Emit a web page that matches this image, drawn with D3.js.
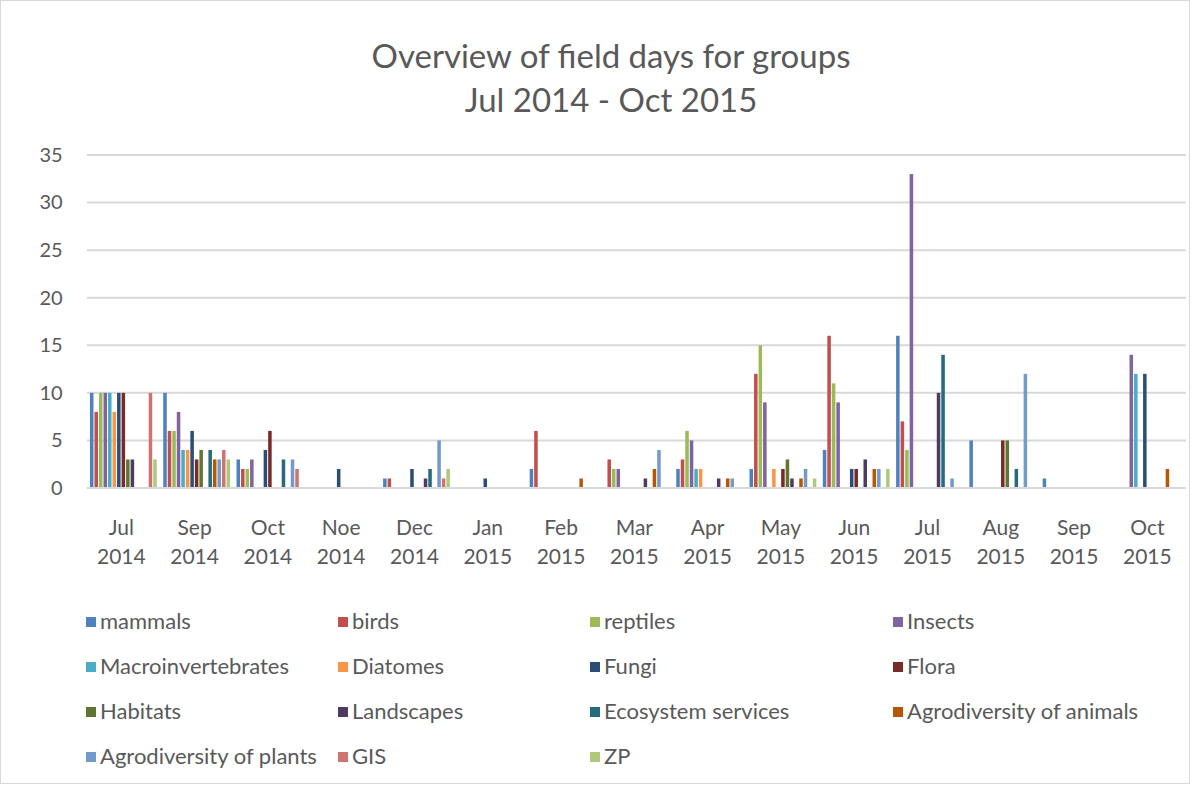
<!DOCTYPE html>
<html>
<head>
<meta charset="utf-8">
<script src="https://cdn.jsdelivr.net/npm/d3@7/dist/d3.min.js"></script>
<style>
  html, body { margin: 0; padding: 0; background: #fff; }
  svg { display: block; font-family: Lato, "Open Sans", sans-serif; }
</style>
</head>
<body>
<svg id="chart" width="1201" height="785"></svg>
<script>
// Months (two-line labels: month, year)
const months = ["Jul 2014", "Sep 2014", "Oct 2014", "Noe 2014", "Dec 2014", "Jan 2015", "Feb 2015",
  "Mar 2015", "Apr 2015", "May 2015", "Jun 2015", "Jul 2015", "Aug 2015", "Sep 2015", "Oct 2015"];

const seriesNames = ["mammals", "birds", "reptiles", "Insects", "Macroinvertebrates", "Diatomes", "Fungi",
  "Flora", "Habitats", "Landscapes", "Ecosystem services", "Agrodiversity of animals",
  "Agrodiversity of plants", "GIS", "ZP"];

const seriesColors = ["#4F81BD", "#C0504D", "#9BBB59", "#8064A2", "#4BACC6", "#F79646", "#2C4D75",
  "#772C2A", "#5F7530", "#4D3B62", "#276A7C", "#B65708", "#729ACA", "#CD7371", "#AFC97A"];

// Field days per group, one value per month
const mammals            = [10, 10, 3, 0, 1, 0, 2, 0, 2, 2, 4, 16, 5, 1, 0];
const birds              = [8, 6, 2, 0, 1, 0, 6, 3, 3, 12, 16, 7, 0, 0, 0];
const reptiles           = [10, 6, 2, 0, 0, 0, 0, 2, 6, 15, 11, 4, 0, 0, 0];
const insects            = [10, 8, 3, 0, 0, 0, 0, 2, 5, 9, 9, 33, 0, 0, 14];
const macroinvertebrates = [10, 4, 0, 0, 0, 0, 0, 0, 2, 0, 0, 0, 0, 0, 12];
const diatomes           = [8, 4, 0, 0, 0, 0, 0, 0, 2, 2, 0, 0, 0, 0, 0];
const fungi              = [10, 6, 4, 2, 2, 1, 0, 0, 0, 0, 2, 0, 0, 0, 12];
const flora              = [10, 3, 6, 0, 0, 0, 0, 0, 0, 2, 2, 0, 5, 0, 0];
const habitats           = [3, 4, 0, 0, 0, 0, 0, 0, 0, 3, 0, 0, 5, 0, 0];
const landscapes         = [3, 0, 0, 0, 1, 0, 0, 1, 1, 1, 3, 10, 0, 0, 0];
const ecosystemServices  = [0, 4, 3, 0, 2, 0, 0, 0, 0, 0, 0, 14, 2, 0, 0];
const agroAnimals        = [0, 3, 0, 0, 0, 0, 1, 2, 1, 1, 2, 0, 0, 0, 2];
const agroPlants         = [0, 3, 3, 0, 5, 0, 0, 4, 1, 2, 2, 1, 12, 0, 0];
const gis                = [10, 4, 2, 0, 1, 0, 0, 0, 0, 0, 0, 0, 0, 0, 0];
const zp                 = [3, 3, 0, 0, 2, 0, 0, 0, 0, 1, 2, 0, 0, 0, 0];

const seriesValues = [mammals, birds, reptiles, insects, macroinvertebrates, diatomes, fungi, flora,
  habitats, landscapes, ecosystemServices, agroAnimals, agroPlants, gis, zp];

const yTicks = [0, 5, 10, 15, 20, 25, 30, 35];

const svg = d3.select("#chart");
const textColor = "#595959";
const gridColor = "#D9D9D9";

// Chart frame
svg.append("rect")
  .attr("x", 0.5).attr("y", 0.5).attr("width", 1189).attr("height", 783)
  .attr("fill", "#fff").attr("stroke", gridColor);

// Title
const title = svg.append("text")
  .attr("text-anchor", "middle")
  .attr("fill", textColor)
  .attr("font-size", 33);
title.append("tspan").attr("x", 611).attr("y", 68).text("Overview of field days for groups");
title.append("tspan").attr("x", 611).attr("y", 112).text("Jul 2014 - Oct 2015");

// Scales
const plotLeft = 86.7, plotRight = 1186;
const x0 = d3.scaleBand().domain(months).range([plotLeft, plotRight]);
const gap = x0.bandwidth() - 15 * 4.52;
const x1 = d3.scaleBand().domain(seriesNames).range([gap / 2, x0.bandwidth() - gap / 2]);
const y = d3.scaleLinear().domain([0, 35]).range([488, 155]);

// Gridlines
svg.append("g")
  .selectAll("line")
  .data(yTicks)
  .join("line")
  .attr("x1", plotLeft).attr("x2", plotRight)
  .attr("y1", d => y(d)).attr("y2", d => y(d))
  .attr("stroke", gridColor).attr("stroke-width", 2);

// Y axis labels
const yAxis = svg.append("g")
  .attr("transform", `translate(${plotLeft - 24},0)`)
  .call(d3.axisLeft(y).tickValues(yTicks).tickSize(0).tickPadding(0));
yAxis.select(".domain").remove();
yAxis.selectAll("text")
  .attr("fill", textColor)
  .attr("font-size", 20)
  .attr("font-family", "Lato, 'Open Sans', sans-serif");

// Bars
const groups = svg.append("g")
  .selectAll("g")
  .data(seriesNames)
  .join("g")
  .attr("fill", (d, i) => seriesColors[i]);

groups.selectAll("rect")
  .data((name, si) => seriesValues[si].map((v, mi) => ({ name, v, month: months[mi] })))
  .join("rect")
  .filter(d => d.v > 0)
  .attr("x", d => x0(d.month) + x1(d.name) + 0.5)
  .attr("width", x1.bandwidth() - 1)
  .attr("y", d => y(d.v))
  .attr("height", d => y(0) - y(d.v));

// X axis line and labels
svg.append("line")
  .attr("x1", plotLeft).attr("x2", plotRight)
  .attr("y1", y(0)).attr("y2", y(0))
  .attr("stroke", gridColor).attr("stroke-width", 2);

const xLabels = svg.append("g")
  .selectAll("text")
  .data(months)
  .join("text")
  .attr("text-anchor", "middle")
  .attr("fill", textColor)
  .attr("font-size", 21);
xLabels.append("tspan")
  .attr("x", d => x0(d) + x0.bandwidth() / 2 - 2)
  .attr("y", 535)
  .text(d => d.split(" ")[0]);
xLabels.append("tspan")
  .attr("x", d => x0(d) + x0.bandwidth() / 2 - 2)
  .attr("y", 564)
  .text(d => d.split(" ")[1]);

// Legend: four columns
const colX = [86, 338, 590, 893];
const legend = svg.append("g")
  .selectAll("g")
  .data(seriesNames)
  .join("g")
  .attr("transform", (d, i) => `translate(${colX[i % 4]},${622 + Math.floor(i / 4) * 45})`);
legend.append("rect")
  .attr("x", 0).attr("y", -5).attr("width", 10).attr("height", 10)
  .attr("fill", (d, i) => seriesColors[i]);
legend.append("text")
  .attr("x", 14).attr("y", 7)
  .attr("fill", textColor)
  .attr("font-size", 22)
  .text(d => d);
</script>
</body>
</html>
